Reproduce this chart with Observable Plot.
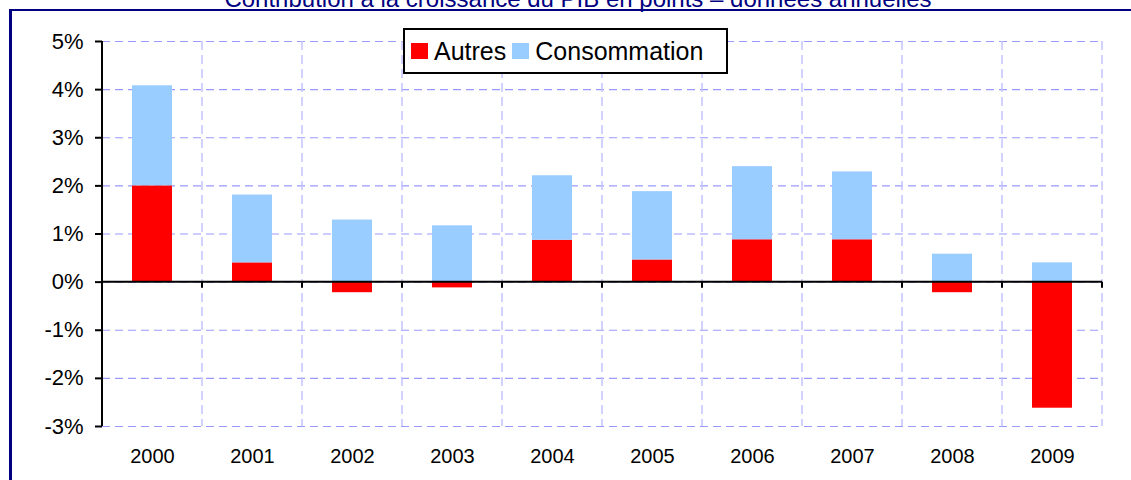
<!DOCTYPE html>
<html>
<head>
<meta charset="utf-8">
<script src="https://cdn.jsdelivr.net/npm/d3@7"></script>
<script src="https://cdn.jsdelivr.net/npm/@observablehq/plot@0.6"></script>
<style>
  html, body { margin: 0; padding: 0; background: #fff; }
  #wrap { position: relative; width: 1131px; height: 480px; overflow: hidden; font-family: "Liberation Sans", Arial, sans-serif; }
  #title { position: absolute; top: -15px; left: 0; width: 1156px; text-align: center; color: #000080; font-size: 24px; white-space: nowrap; }
  #frame { position: absolute; left: 9px; top: 9px; width: 1200px; height: 600px; border-top: 2px solid #000080; border-left: 3px solid #000080; }
  #chart { position: absolute; left: 0; top: 0; }
  #legend { position: absolute; left: 403px; top: 28px; width: 321px; height: 42px; border: 2px solid #000; background: #fff; display: flex; align-items: center; font-size: 25px; color: #000; }
  #legend .item { display: flex; align-items: center; margin-left: 6px; }
  #legend .sw { width: 17px; height: 16px; margin-right: 6px; display: inline-block; }
</style>
</head>
<body>
<div id="wrap">
  <div id="frame"></div>
  <div id="title"></div>
  <div id="chart"></div>
  <div id="legend"></div>
</div>
<script>
const titleText = "Contribution à la croissance du PIB en points – données annuelles";
const years = [2000, 2001, 2002, 2003, 2004, 2005, 2006, 2007, 2008, 2009];
const autres = [2.0, 0.40, -0.22, -0.12, 0.87, 0.46, 0.88, 0.88, -0.22, -2.62];
const consommation = [2.08, 1.41, 1.29, 1.17, 1.34, 1.42, 1.52, 1.41, 0.58, 0.40];
const series = ["Autres", "Consommation"];
const colors = ["#FF0000", "#99CCFF"];
const yTicks = [-3, -2, -1, 0, 1, 2, 3, 4, 5];
const barPadding = 0.6;

document.getElementById("title").textContent = titleText;

const data = [];
years.forEach((yr, i) => {
  data.push({year: yr, series: series[0], value: autres[i]});
  data.push({year: yr, series: series[1], value: consommation[i]});
});

function bounds(x) {
  const step = x(years[1]) - x(years[0]);
  const bw = step * (1 - barPadding);
  const b = years.map(v => x(v) + bw / 2 - step / 2);
  b.push(x(years[years.length - 1]) + bw / 2 + step / 2);
  return b;
}

function vgrid(index, scales) {
  const x = scales.x, y = scales.y;
  const g = d3.create("svg:g");
  g.selectAll("line").data(bounds(x)).join("line")
    .attr("x1", d => d).attr("x2", d => d)
    .attr("y1", y(yTicks[yTicks.length - 1])).attr("y2", y(yTicks[0]))
    .attr("stroke", "#c4c4ff").attr("stroke-width", 1.5).attr("stroke-dasharray", "9,5");
  return g.node();
}

function axisLines(index, scales) {
  const x = scales.x, y = scales.y;
  const b = bounds(x);
  const g = d3.create("svg:g").attr("stroke", "#000").attr("stroke-width", 2);
  g.append("line").attr("x1", b[0]).attr("x2", b[0])
    .attr("y1", y(yTicks[yTicks.length - 1])).attr("y2", y(yTicks[0]));
  g.append("line").attr("x1", b[0]).attr("x2", b[b.length - 1]).attr("y1", y(0)).attr("y2", y(0));
  g.selectAll("line.t").data(b).join("line").attr("class", "t")
    .attr("x1", d => d).attr("x2", d => d).attr("y1", y(0)).attr("y2", y(0) + 6);
  return g.node();
}

const chart = Plot.plot({
  width: 1131,
  height: 480,
  marginLeft: 102,
  marginRight: 29,
  marginTop: 41,
  marginBottom: 54,
  style: {fontFamily: "'Liberation Sans', Arial, sans-serif", background: "transparent", color: "#000"},
  x: {domain: years, paddingInner: barPadding, paddingOuter: 0.3, label: null},
  y: {domain: [yTicks[0], yTicks[yTicks.length - 1]], label: null},
  color: {domain: series, range: colors},
  marks: [
    Plot.gridY(yTicks, {stroke: "#9999ff", strokeOpacity: 1, strokeWidth: 1.2, strokeDasharray: "8,5"}),
    vgrid,
    Plot.barY(data, {x: "year", y: "value", fill: "series", order: series}),
    axisLines,
    Plot.axisY(yTicks, {tickSize: 7, tickPadding: 12, fontSize: 22, tickFormat: d => d + "%", strokeWidth: 2, label: null}),
    Plot.axisX(years, {tickSize: 0, tickPadding: 22, fontSize: 20, tickFormat: d => String(d), label: null})
  ]
});
document.getElementById("chart").appendChild(chart);

const legend = d3.select("#legend");
series.forEach((s, i) => {
  const item = legend.append("div").attr("class", "item");
  item.append("span").attr("class", "sw").style("background", colors[i]);
  item.append("span").text(s);
});
</script>
</body>
</html>
